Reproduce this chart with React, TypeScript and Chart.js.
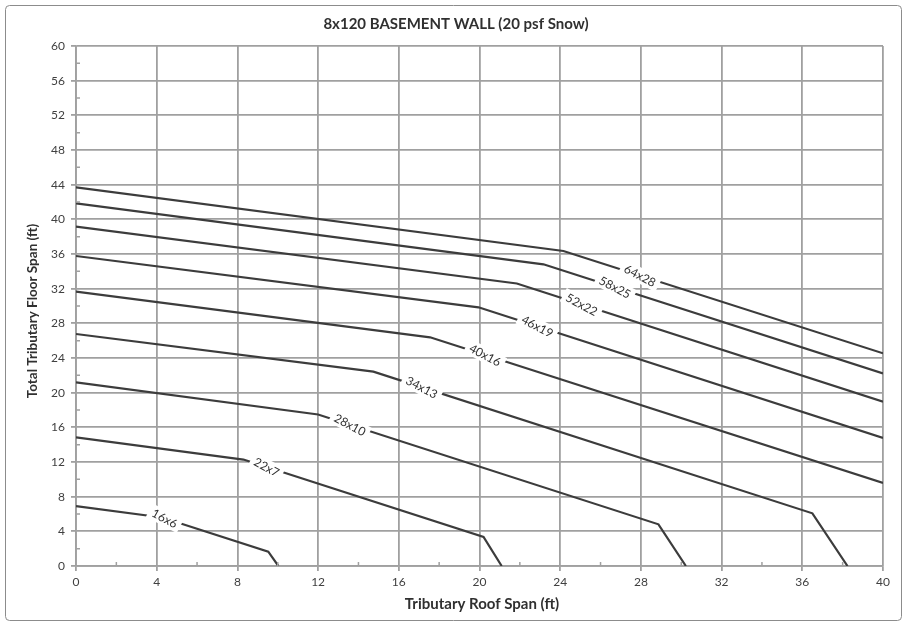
import React, { useEffect, useRef } from 'react';
import { Chart, registerables } from 'chart.js';

Chart.register(...registerables);

// Text
const chartTitle = '8x120 BASEMENT WALL (20 psf Snow)';
const xAxisTitle = 'Tributary Roof Span (ft)';
const yAxisTitle = 'Total Tributary Floor Span (ft)';

// Axis ranges / tick steps
const xMin = 0;
const xMax = 40;
const yMin = 0;
const yMax = 60;
const majorStep = 4;

// Footing size curves: roof span (x) vs. floor span (y)
const seriesNames = ['16x6', '22x7', '28x10', '34x13', '40x16', '46x19', '52x22', '58x25', '64x28'];

const roof16x6 = [0, 4.27, 9.53, 10.03];
const floor16x6 = [6.92, 5.6, 1.65, 0];

const roof22x7 = [0, 8.3, 20.2, 21.1];
const floor22x7 = [14.85, 12.28, 3.35, 0];

const roof28x10 = [0, 12.0, 28.87, 30.23];
const floor28x10 = [21.2, 17.48, 4.81, 0];

const roof34x13 = [0, 14.74, 36.5, 38.24];
const floor34x13 = [26.77, 22.42, 6.08, 0];

const roof40x16 = [0, 17.55, 40];
const floor40x16 = [31.65, 26.39, 9.58];

const roof46x19 = [0, 19.95, 40];
const floor46x19 = [35.77, 29.85, 14.77];

const roof52x22 = [0, 21.85, 40];
const floor52x22 = [39.15, 32.6, 18.96];

const roof58x25 = [0, 23.17, 40];
const floor58x25 = [41.85, 34.81, 22.23];

const roof64x28 = [0, 24.16, 40];
const floor64x28 = [43.7, 36.35, 24.54];

const roofSeries = [roof16x6, roof22x7, roof28x10, roof34x13, roof40x16, roof46x19, roof52x22, roof58x25, roof64x28];
const floorSeries = [floor16x6, floor22x7, floor28x10, floor34x13, floor40x16, floor46x19, floor52x22, floor58x25, floor64x28];

// Roof span at which each curve carries its inline label
const labelRoofSpan = [4.4, 9.45, 13.58, 17.14, 20.28, 22.87, 25.07, 26.72, 27.96];

const FONT = 'Lato, "Open Sans", "DejaVu Sans", sans-serif';
const LINE_COLOR = '#3c3c3c';
const GRID_COLOR = '#a0a0a0';
const TEXT_COLOR = '#303030';
const LABEL_ANGLE = (28 * Math.PI) / 180;

function floorAt(xs: number[], ys: number[], x: number): number {
  for (let i = 0; i < xs.length - 1; i++) {
    if (x >= xs[i] && x <= xs[i + 1]) {
      const t = (x - xs[i]) / (xs[i + 1] - xs[i]);
      return ys[i] + t * (ys[i + 1] - ys[i]);
    }
  }
  return ys[ys.length - 1];
}

const decorPlugin = {
  id: 'decor',
  beforeDraw(chart: any) {
    const { ctx, width, height } = chart;
    ctx.save();
    ctx.fillStyle = '#ffffff';
    ctx.fillRect(0, 0, width, height);
    ctx.strokeStyle = '#8c8c8c';
    ctx.lineWidth = 1;
    const x = 5.5, y = 5.5, w = width - 11, h = height - 11, r = 4;
    ctx.beginPath();
    ctx.moveTo(x + r, y);
    ctx.arcTo(x + w, y, x + w, y + h, r);
    ctx.arcTo(x + w, y + h, x, y + h, r);
    ctx.arcTo(x, y + h, x, y, r);
    ctx.arcTo(x, y, x + w, y, r);
    ctx.closePath();
    ctx.stroke();
    ctx.restore();
  },
  afterDatasetsDraw(chart: any) {
    const { ctx, chartArea, scales } = chart;
    const xs = scales.x;
    const ys = scales.y;
    ctx.save();
    // minor tick marks
    ctx.strokeStyle = GRID_COLOR;
    ctx.lineWidth = 1.5;
    ctx.beginPath();
    for (let v = xMin + majorStep / 2; v < xMax; v += majorStep) {
      const px = xs.getPixelForValue(v);
      ctx.moveTo(px, chartArea.bottom);
      ctx.lineTo(px, chartArea.bottom - 4);
    }
    for (let v = yMin + majorStep / 2; v < yMax; v += majorStep) {
      const py = ys.getPixelForValue(v);
      ctx.moveTo(chartArea.left, py);
      ctx.lineTo(chartArea.left + 4, py);
    }
    ctx.stroke();

    // inline curve labels
    ctx.font = `12px ${FONT}`;
    ctx.textAlign = 'center';
    ctx.textBaseline = 'middle';
    seriesNames.forEach((name, i) => {
      const lx = labelRoofSpan[i];
      const ly = floorAt(roofSeries[i], floorSeries[i], lx);
      const px = xs.getPixelForValue(lx);
      const py = ys.getPixelForValue(ly);
      ctx.save();
      ctx.translate(px, py);
      ctx.rotate(LABEL_ANGLE);
      const w = ctx.measureText(name).width;
      ctx.fillStyle = '#ffffff';
      ctx.fillRect(-w / 2 - 4, -7.5, w + 8, 15);
      ctx.fillStyle = TEXT_COLOR;
      ctx.fillText(name, 0, 0.5);
      ctx.restore();
    });
    ctx.restore();
  },
  afterDraw(chart: any) {
    const { ctx } = chart;
    ctx.save();
    ctx.fillStyle = TEXT_COLOR;
    ctx.textAlign = 'center';
    ctx.textBaseline = 'middle';
    ctx.font = `bold 15px ${FONT}`;
    ctx.fillText(chartTitle, 456, 24);
    ctx.font = `bold 15px ${FONT}`;
    ctx.fillText(xAxisTitle, 482, 604);
    ctx.font = `bold 13.5px ${FONT}`;
    ctx.translate(33, 311);
    ctx.rotate(-Math.PI / 2);
    ctx.fillText(yAxisTitle, 0, 0);
    ctx.restore();
  },
};

export default function App() {
  const canvasRef = useRef<HTMLCanvasElement | null>(null);

  useEffect(() => {
    if (!canvasRef.current) return;
    const datasets = seriesNames.map((name, i) => ({
      label: name,
      data: roofSeries[i].map((x, j) => ({ x, y: floorSeries[i][j] })),
      borderColor: LINE_COLOR,
      backgroundColor: LINE_COLOR,
      borderWidth: 2.2,
      pointRadius: 0,
      tension: 0,
      fill: false,
    }));

    const chart = new Chart(canvasRef.current, {
      type: 'line',
      data: { datasets },
      plugins: [decorPlugin],
      options: {
        animation: false,
        responsive: false,
        maintainAspectRatio: false,
        layout: { padding: { left: 0, top: 46, right: 24, bottom: 0 } },
        plugins: {
          legend: { display: false },
          tooltip: { enabled: false },
          title: { display: false },
        },
        scales: {
          x: {
            type: 'linear',
            min: xMin,
            max: xMax,
            ticks: {
              stepSize: majorStep,
              color: '#404040',
              font: { family: FONT, size: 12 },
              padding: 4,
            },
            grid: { color: GRID_COLOR, lineWidth: 1.8, tickLength: 5 },
            border: { color: GRID_COLOR, width: 1.8 },
            afterFit: (s: any) => {
              s.height = 60;
            },
          },
          y: {
            type: 'linear',
            min: yMin,
            max: yMax,
            ticks: {
              stepSize: majorStep,
              color: '#404040',
              font: { family: FONT, size: 12 },
              padding: 6,
            },
            grid: { color: GRID_COLOR, lineWidth: 1.8, tickLength: 5 },
            border: { color: GRID_COLOR, width: 1.8 },
            afterFit: (s: any) => {
              s.width = 76;
            },
          },
        },
      },
    });
    return () => chart.destroy();
  }, []);

  return (
    <div style={{ position: 'absolute', left: 0, top: 0, width: 907, height: 626 }}>
      <canvas ref={canvasRef} width={907} height={626} />
    </div>
  );
}
